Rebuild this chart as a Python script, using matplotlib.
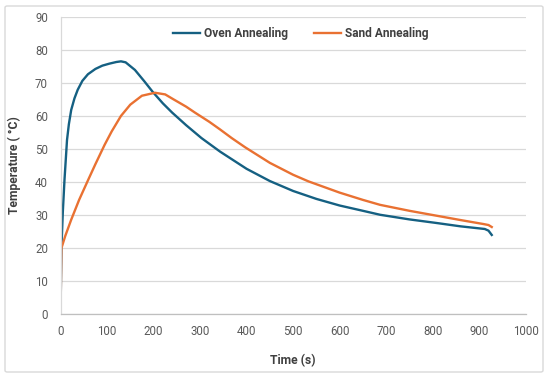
import matplotlib
matplotlib.use("Agg")
import matplotlib.pyplot as plt
from matplotlib.patches import FancyBboxPatch

# ---- data ----
oven_time = [0, 2, 5, 8.6, 14, 18, 23, 30, 37, 47, 59, 75, 90, 105, 120, 130,
             140, 160, 180, 198, 220, 240, 270, 303, 343, 400, 450, 500, 550,
             600, 650, 687, 750, 809, 860, 912, 920, 927]
oven_temp = [0, 20, 31, 40.7, 52.7, 57.5, 61.8, 65.3, 67.9, 70.6, 72.6, 74.2,
             75.2, 75.8, 76.3, 76.5, 76.2, 73.9, 70.5, 67.3, 63.8, 61.0, 57.2,
             53.3, 49.2, 44.0, 40.3, 37.3, 34.9, 32.9, 31.3, 30.1, 28.7, 27.6,
             26.6, 25.8, 25.3, 24.0]

sand_time = [0, 2, 10, 23, 40, 59, 75, 95, 110, 130, 150, 175, 203, 225, 243,
             270, 289, 320, 343, 368, 397, 450, 500, 533, 600, 650, 687, 750,
             809, 860, 909, 920, 927]
sand_temp = [0, 20, 23.6, 28.6, 34.6, 40.5, 45.4, 51.3, 55.3, 60.0, 63.4, 66.1,
             67.0, 66.5, 65.0, 62.8, 61.0, 58.2, 55.9, 53.3, 50.5, 45.8, 42.2,
             40.2, 36.8, 34.6, 33.1, 31.3, 29.8, 28.5, 27.3, 27.0, 26.4]

x_ticks = [0, 100, 200, 300, 400, 500, 600, 700, 800, 900, 1000]
y_ticks = [0, 10, 20, 30, 40, 50, 60, 70, 80, 90]

series_names = ["Oven Annealing", "Sand Annealing"]
colors = ["#156082", "#E97132"]

plt.rcParams['font.family'] = ['Roboto', 'DejaVu Sans']

fig = plt.figure(figsize=(5.5, 3.79), dpi=100)
fig.patch.set_facecolor("white")

# outer chart border
W, H = 550, 379
border = FancyBboxPatch((5 / W, 7 / H), 538 / W, 366 / H,
                        boxstyle="round,pad=0,rounding_size=0.004",
                        transform=fig.transFigure, fill=False,
                        edgecolor="#d9d9d9", linewidth=1.0)
fig.patches.append(border)

ax = fig.add_axes([60.5 / W, 1 - 314.3 / H, 465.2 / W, 297.6 / H])

ax.plot(oven_time, oven_temp, color=colors[0], lw=1.7, label=series_names[0])
ax.plot(sand_time, sand_temp, color=colors[1], lw=1.7, label=series_names[1])

ax.set_xlim(0, 1000)
ax.set_ylim(0, 90)
ax.set_xticks(x_ticks)
ax.set_yticks(y_ticks)
ax.grid(axis="y", color="#d9d9d9", lw=0.9)
ax.set_axisbelow(True)

for s in ["top", "right"]:
    ax.spines[s].set_visible(False)
ax.spines["left"].set_color("#d9d9d9")
ax.spines["bottom"].set_color("#bfbfbf")
ax.spines["left"].set_linewidth(0.9)
ax.spines["bottom"].set_linewidth(0.9)

ax.tick_params(axis="both", length=0, labelsize=8.3, labelcolor="#595959")
ax.tick_params(axis="x", pad=8)
ax.tick_params(axis="y", pad=9)

ax.set_xlabel("Time (s)", fontsize=8.7, fontweight="bold", color="#404040",
              labelpad=11)
ax.set_ylabel("Temperature ( °C)", fontsize=8.7, fontweight="bold",
              color="#404040", labelpad=10)

leg = ax.legend(loc="center", bbox_to_anchor=(0.516, 0.942), ncol=2,
                frameon=False, fontsize=8.6, handlelength=2.3,
                handletextpad=0.3, columnspacing=2.2)
for t in leg.get_texts():
    t.set_fontweight("bold")
    t.set_color("#404040")

fig.savefig("out.png", dpi=100, facecolor="white")
